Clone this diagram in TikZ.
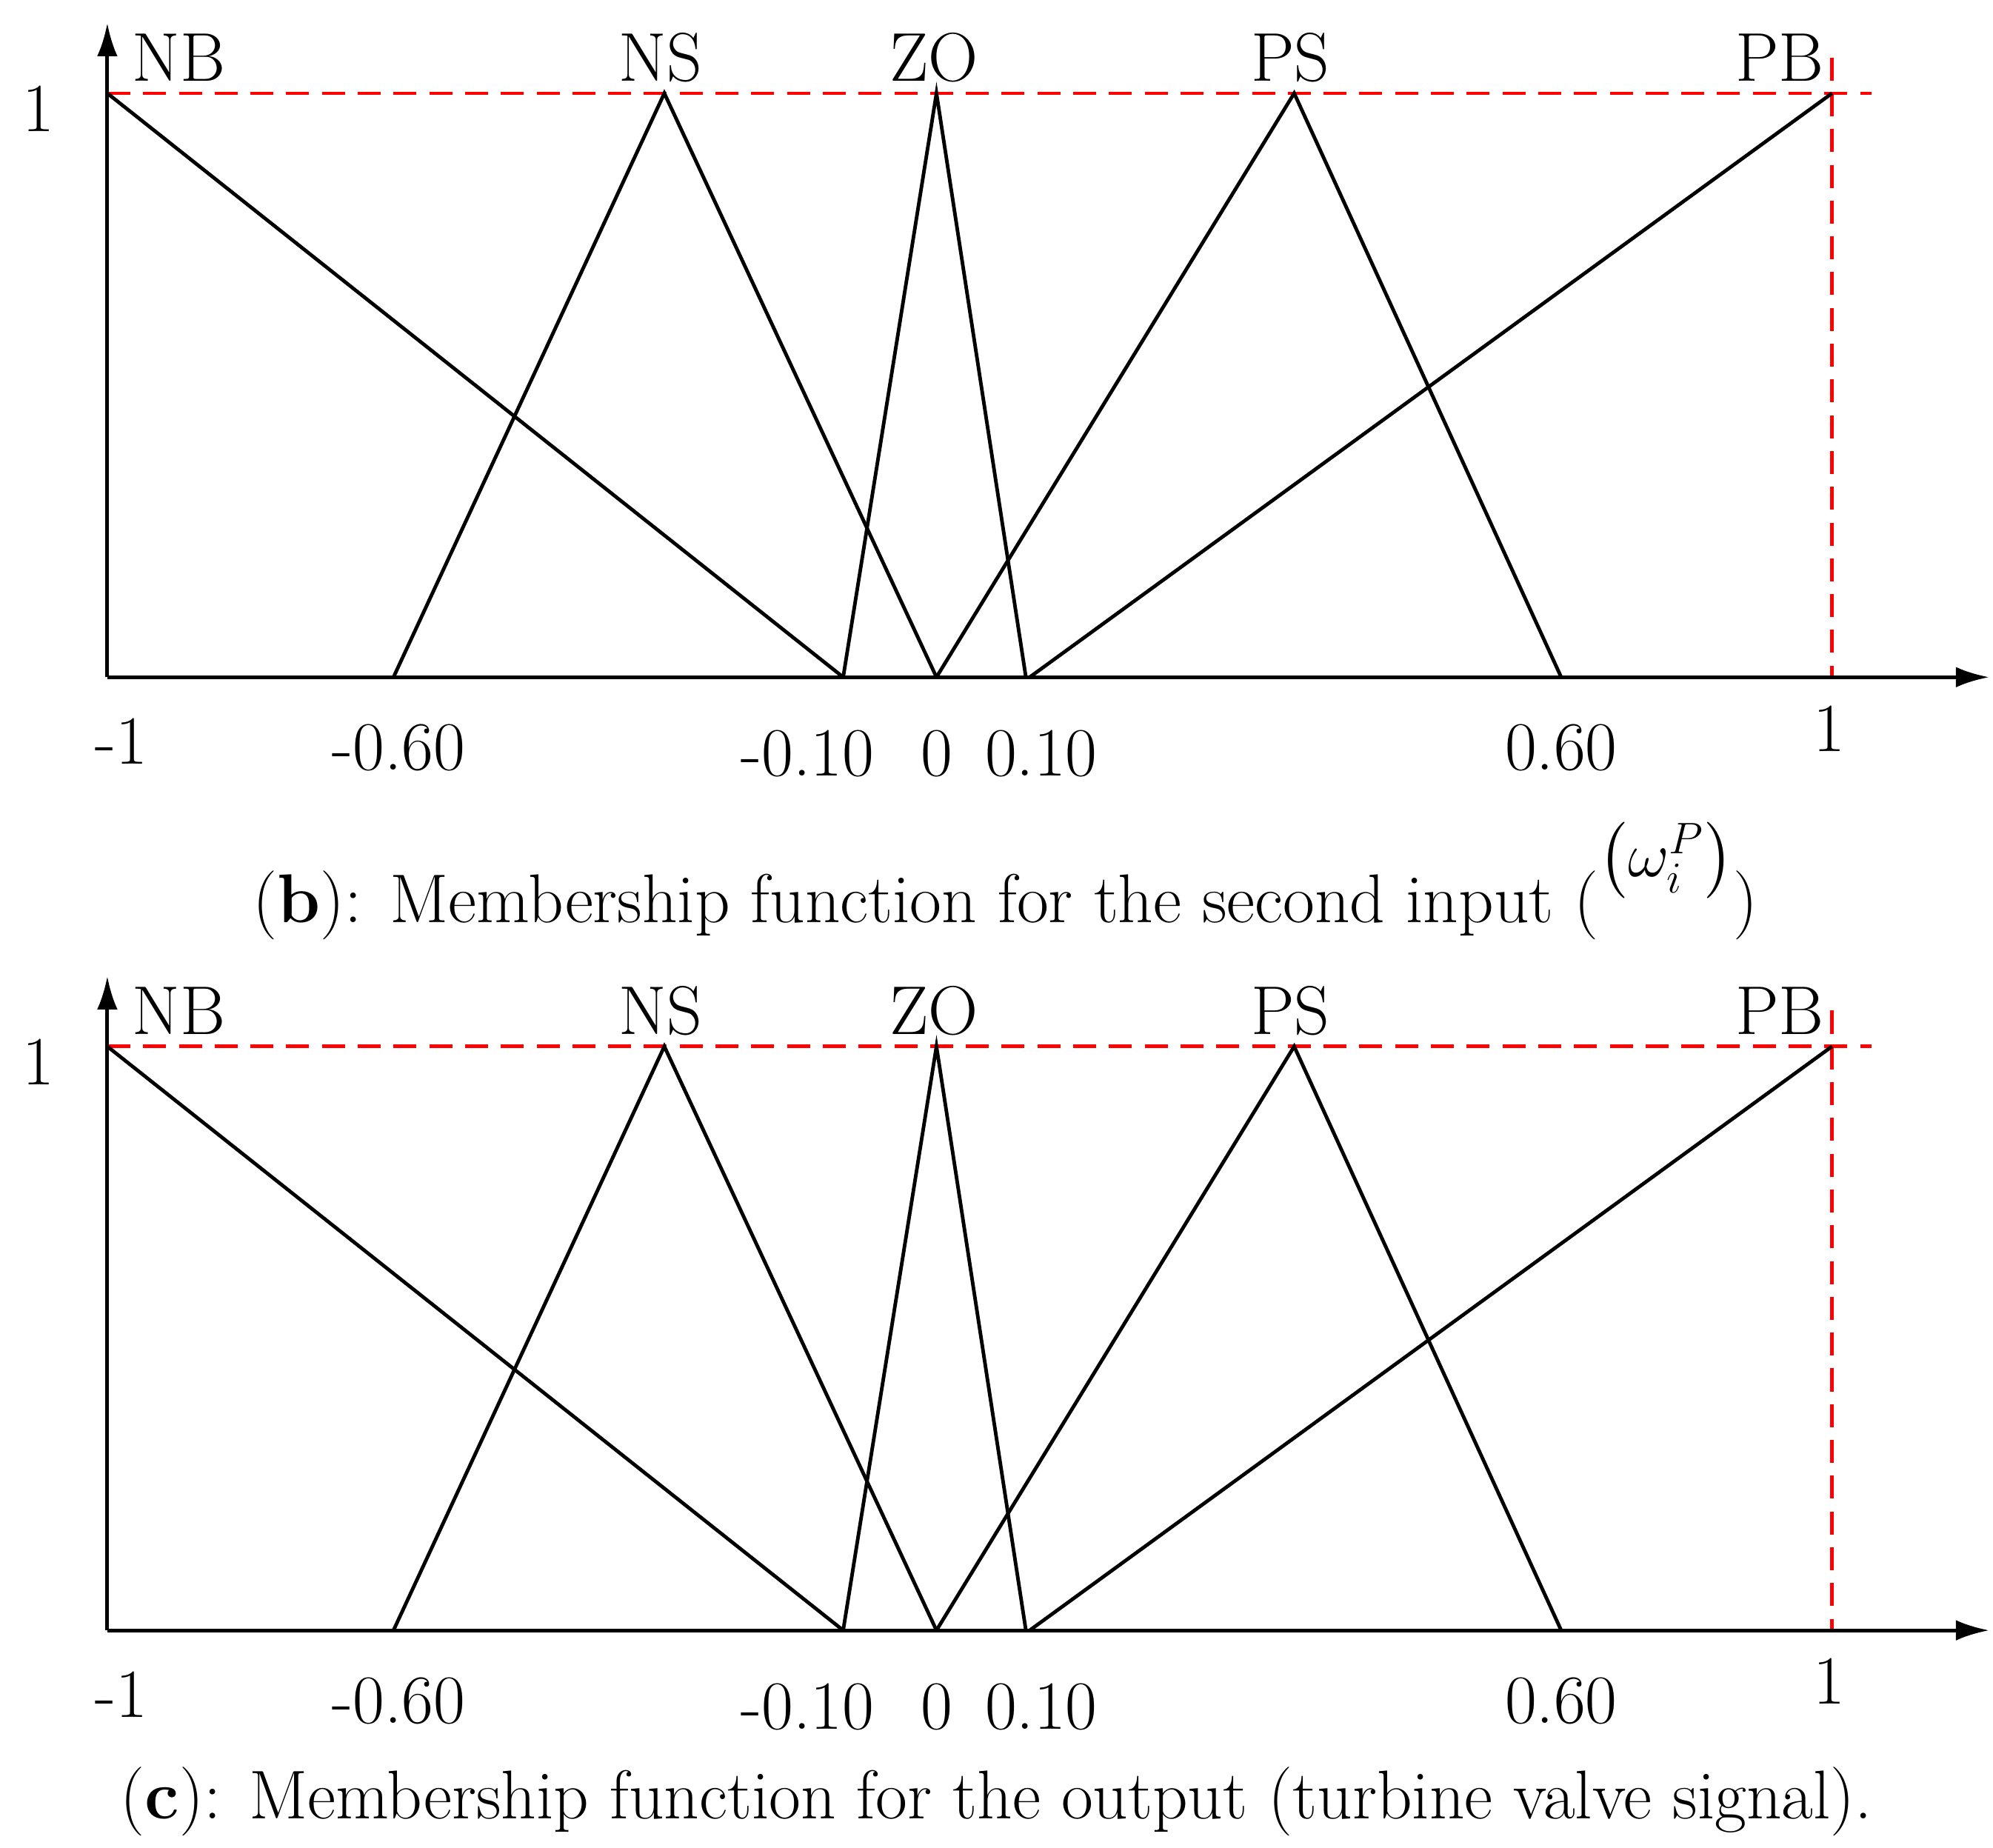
\documentclass[tikz,border=0pt]{standalone}
\usepackage{amsmath}
\usetikzlibrary{arrows.meta}
\begin{document}
\begin{tikzpicture}[x=0.5pt,y=-0.5pt,
  mf/.style={black,line width=1.4pt,line join=miter},
  ax/.style={black,line width=1.4pt,-{Latex[length=13pt,width=8pt]}},
  rd/.style={red,line width=1.4pt,dash pattern=on 9pt off 5pt},
  lb/.style={font=\fontsize{27}{32}\selectfont,inner sep=0pt}]
\useasboundingbox (0,0) rectangle (1560,1446);
\foreach \o/\n in {0/b,746/c}{
\begin{scope}[yshift=-\o*0.5pt]
 \coordinate (O\n) at (84,530);
 \coordinate (Y\n) at (84,18);
 \coordinate (X\n) at (1557,530);
 \draw[rd] (84,73) -- (1465,73);
 \draw[rd] (1434,45) -- (1434,530);
 \draw[ax] (O\n) -- (Y\n);
 \draw[ax] (O\n) -- (X\n);
 \draw[mf] (84,73) -- (660,530);
 \draw[mf] (308,530) -- (520,73) -- (733,530);
 \draw[mf] (660,530) -- (733,73) -- (803,530);
 \draw[mf] (733,530) -- (1013,73) -- (1222,530);
 \draw[mf] (806,530) -- (1434,73);
 \node[lb] (nb\n) at (140,45) {NB};
 \node[lb] (ns\n) at (517,45) {NS};
 \node[lb] (zo\n) at (731,45) {ZO};
 \node[lb] (ps\n) at (1010,45) {PS};
 \node[lb] (pb\n) at (1393,45) {PB};
 \node[lb] (one\n) at (30,85) {1};
 \node[lb] (t1\n) at (95,580) {-1};
 \node[lb] (t2\n) at (312,585) {-0.60};
 \node[lb] (t3\n) at (632,590) {-0.10};
 \node[lb] (t4\n) at (733,590) {0};
 \node[lb] (t5\n) at (815,590) {0.10};
 \node[lb] (t6\n) at (1222,585) {0.60};
 \node[lb] (t7\n) at (1432,570) {1};
\end{scope}}
\node[lb,anchor=base] (capb) at (787,722) {(\textbf{b}): Membership function for the second input (\raisebox{18pt}{$\left(\omega_i^{P}\right)$})};
\node[lb] (capc) at (780,1410) {(\textbf{c}): Membership function for the output (turbine valve signal).};
\end{tikzpicture}
\end{document}
